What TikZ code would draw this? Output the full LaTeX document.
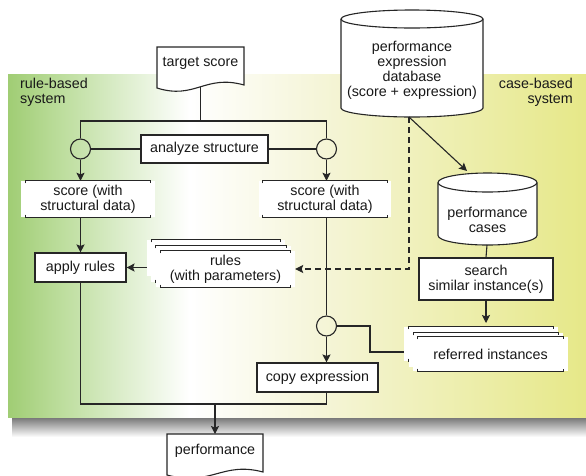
\documentclass[tikz,border=0pt]{standalone}
\usepackage{fontspec}
\setmainfont{Liberation Sans}
\usetikzlibrary{arrows.meta}
\definecolor{pgA}{HTML}{A0CD74}
\definecolor{pgB}{HTML}{BCDD9C}
\definecolor{pyA}{HTML}{F5F5D8}
\definecolor{pyB}{HTML}{E6E888}
\definecolor{inkc}{HTML}{262626}
\pgfdeclarehorizontalshading{panelshade}{100bp}{color(0bp)=(pgA); color(25bp)=(pgA); color(29.5bp)=(pgB); color(40.7bp)=(white); color(52bp)=(pyA); color(75bp)=(pyB); color(100bp)=(pyB)}
\newcommand\mybrk[2]{%
  \draw[ln] ([xshift=#2,yshift=-2.5pt]#1.north west) -- ([xshift=#2]#1.north west) -- ([xshift=-#2]#1.north east) -- ([xshift=-#2,yshift=-2.5pt]#1.north east);
  \draw[ln] ([xshift=#2,yshift=2.5pt]#1.south west) -- ([xshift=#2]#1.south west) -- ([xshift=-#2]#1.south east) -- ([xshift=-#2,yshift=2.5pt]#1.south east);}
\begin{document}
\begin{tikzpicture}[x=1pt,y=-1pt,
  ln/.style={line width=1.1pt, draw=inkc},
  arr/.style={ln, -{Stealth[length=8pt,width=8pt,inset=1.5pt]}},
  txt/.style={font=\fontsize{14.3}{15}\selectfont, align=center, inner sep=0pt, text=black!90},
  proc/.style={txt, ln, fill=white, rectangle},
  store/.style={txt, fill=white, rectangle, minimum height=36pt},
  ring/.style={circle, ln, minimum size=20pt, inner sep=0pt}]
\useasboundingbox (0,0) rectangle (586,475);
\clip (0,0) rectangle (586,475);
% shadow and panel
\shade[top color=black!55, bottom color=white] (12,417) rectangle (586,437);
\shade[shading=panelshade] (8,74) rectangle (586,417);
\node[txt, align=left, anchor=north west] (lr) at (20,78) {rule-based\\system};
\node[txt, align=right, anchor=north east] (lc) at (573,78) {case-based\\system};
% documents
\path[ln, fill=white] (157,47) -- (244,47) -- (244,85) .. controls (205,74) and (195,100) .. (157,88) -- cycle;
\node[txt] (ts) at (200.5,63) {target score};
\coordinate (tsb) at (200.5,87);
\path[ln, fill=white] (167,434) -- (263,434) -- (263,472) .. controls (222,461) and (211,487) .. (167,475) -- cycle;
\node[txt] (pf) at (215,451) {performance};
\coordinate (pft) at (215,434);
% database cylinder
\path[ln, fill=white] (341,19) -- (341,108) arc[start angle=180, end angle=360, x radius=71pt, y radius=9pt] -- (483,19) arc[start angle=0, end angle=180, x radius=71pt, y radius=9pt] -- cycle;
\draw[ln] (341,19) arc[start angle=180, end angle=360, x radius=71pt, y radius=9pt];
\node[txt] (db) at (412,70.5) {performance\\expression\\database\\(score + expression)};
\coordinate (dbb) at (409,117);
% cases cylinder
\path[ln, fill=white] (438,182.5) -- (438,235.5) arc[start angle=180, end angle=360, x radius=49.5pt, y radius=9.5pt] -- (537,182.5) arc[start angle=0, end angle=180, x radius=49.5pt, y radius=9.5pt] -- cycle;
\draw[ln] (438,182.5) arc[start angle=180, end angle=360, x radius=49.5pt, y radius=9.5pt];
\node[txt] (pc) at (487.5,220) {performance\\cases};
\coordinate (pct) at (467,171);
\coordinate (pcb) at (487,245);
% process boxes
\node[proc, minimum width=127pt, minimum height=28pt] (as) at (204.5,149) {analyze structure};
\node[proc, minimum width=91pt, minimum height=29pt] (ap) at (80.5,267.5) {apply rules};
\node[proc, minimum width=134pt, minimum height=42pt] (se) at (486,279) {search\\similar instance(s)};
\node[proc, minimum width=121pt, minimum height=29pt] (ce) at (317.5,377.5) {copy expression};
% stores
\node[store, minimum width=134pt] (sl) at (88,199) {score (with\\structural data)};
\mybrk{sl}{5pt}
\node[store, minimum width=132pt] (sr) at (325,199) {score (with\\structural data)};
\mybrk{sr}{4pt}
% rules stack
\node[store, minimum width=138pt] (r1) at (216,258) {};
\mybrk{r1}{5pt}
\node[store, minimum width=140pt] (r2) at (221,264) {};
\mybrk{r2}{5pt}
\node[store, minimum width=139pt] (r3) at (225.5,269) {rules\\(with parameters)};
\mybrk{r3}{5pt}
% referred stack
\node[store, minimum width=154pt, minimum height=34pt] (i1) at (481,344) {};
\mybrk{i1}{5pt}
\node[store, minimum width=154pt, minimum height=34pt] (i2) at (486,350) {};
\mybrk{i2}{5pt}
\node[store, minimum width=155pt, minimum height=34pt] (i3) at (490.5,354) {referred instances};
\mybrk{i3}{5pt}
% junction circles
\node[ring] (cl) at (80.5,149) {};
\node[ring] (cr) at (326.5,149) {};
\node[ring] (cr2) at (326.5,326) {};
% helper coordinates
\coordinate (top) at (200.5,121);
\coordinate (bj) at (215,404);
\coordinate (it) at (486,323);
\coordinate (rj1) at (370,326);
\coordinate (rj2) at (404,352);
% connectors
\draw[ln] (tsb) -- (top);
\draw[ln] (cl.north) |- (top) -| (cr.north);
\draw[ln] (cl.east) -- (as.west);
\draw[ln] (as.east) -- (cr.west);
\draw[arr] (cl.south) -- (cl.south |- sl.north);
\draw[arr] (cr.south) -- (cr.south |- sr.north);
\draw[arr] (cl.south |- sl.south) -- (ap.north);
\draw[ln] (cr.south |- sr.south) -- (cr2.north);
\draw[arr] (cr2.south) -- (cr2.south |- ce.north);
\draw[ln] (ap.south) |- (bj) -| (cr2.south |- ce.south);
\draw[arr] (bj) -- (pft);
\draw[arr] (r1.west |- ap.east) -- (ap.east);
\draw[arr, dash pattern=on 6pt off 4pt] (dbb) |- (r3.east);
\draw[arr] (dbb) -- (pct);
\draw[ln] (pcb) -- (se.north);
\draw[arr] (se.south) -- (it);
\draw[ln] (cr2.east) -- (rj1) |- (rj2);
\end{tikzpicture}
\end{document}
